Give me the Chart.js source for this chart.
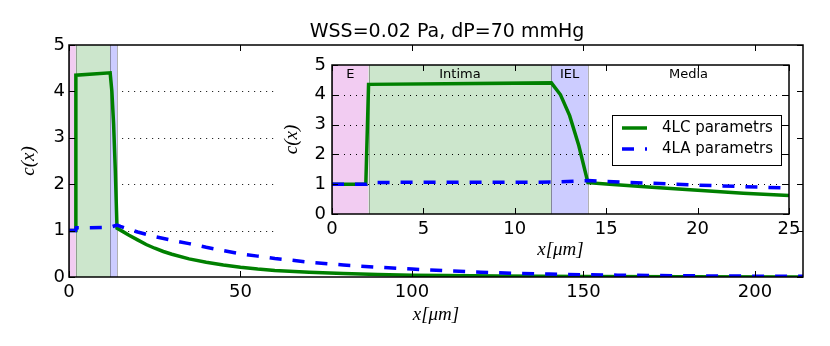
<!DOCTYPE html>
<html lang="en">
<head>
  <meta charset="UTF-8">
  <title>WSS=0.02 Pa, dP=70 mmHg</title>
  <script src="https://cdn.jsdelivr.net/npm/chart.js"></script>
  <style>
    body { margin: 0; background: #fff; }
    #wrap { position: relative; width: 830px; height: 346px; }
    #wrap canvas { position: absolute; left: 0; top: 0; }
  </style>
</head>
<body>
  <div id="wrap">
    <canvas id="mainChart" width="830" height="346"></canvas>
    <canvas id="insetChart" width="830" height="346"></canvas>
  </div>

  <script>
    // 4LC parameters (green, solid)
    const xLC = [0, 1.85, 2, 12, 12.5, 13, 13.5, 14, 15, 17.5, 20, 22.5, 25, 27.5, 30, 35, 40, 45, 50, 55, 60, 70, 80, 90, 100, 110, 125, 150, 180, 214];
    const yLC = [1.0, 1.0, 4.35, 4.40, 4.0, 3.3, 2.3, 1.05, 1.01, 0.90, 0.80, 0.70, 0.62, 0.55, 0.49, 0.39, 0.32, 0.26, 0.21, 0.17, 0.14, 0.10, 0.075, 0.055, 0.04, 0.03, 0.02, 0.01, 0.005, 0.002];
    // 4LA parameters (blue, dashed)
    const xLA = [0, 1.9, 2.1, 12, 14, 15, 17.5, 20, 22.5, 25, 30, 35, 40, 45, 50, 55, 60, 70, 80, 90, 100, 110, 120, 130, 140, 150, 160, 170, 185, 200, 214];
    const yLA = [1.0, 1.0, 1.06, 1.07, 1.12, 1.09, 1.03, 0.97, 0.92, 0.87, 0.79, 0.72, 0.64, 0.57, 0.50, 0.45, 0.40, 0.32, 0.26, 0.21, 0.17, 0.135, 0.105, 0.08, 0.062, 0.05, 0.04, 0.032, 0.024, 0.018, 0.014];

    // wall layers
    const regionNames = ['E', 'Intima', 'IEL', 'Media'];
    const regionStart = [0, 2, 12, 14];
    const regionEnd = [2, 12, 14, 25];
    const regionColors = ['#f2ccf2', '#cce6cc', '#ccccff', null];

    const mainXTicks = [0, 50, 100, 150, 200];
    const insetXTicks = [0, 5, 10, 15, 20, 25];
    const yTicks = [0, 1, 2, 3, 4, 5];
    const gridLevels = [1, 2, 3, 4];

    const SANS = "'DejaVu Sans', sans-serif";
    const SERIF = "'Liberation Serif', 'DejaVu Serif', serif";
    Chart.defaults.font.family = SANS;
    Chart.defaults.color = '#000';

    function makeDatasets() {
      return [
        {
          label: '4LC parametrs',
          data: xLC.map((x, i) => ({ x: x, y: yLC[i] })),
          borderColor: '#008000', borderWidth: 3.5,
          pointRadius: 0, tension: 0, fill: false, clip: 0, order: 1
        },
        {
          label: '4LA parametrs',
          data: xLA.map((x, i) => ({ x: x, y: yLA[i] })),
          borderColor: '#0000ff', borderWidth: 3.5, borderDash: [12, 11],
          pointRadius: 0, tension: 0, fill: false, clip: 0, order: 0
        }
      ];
    }

    function line(ctx, x0, y0, x1, y1) {
      ctx.beginPath(); ctx.moveTo(x0, y0); ctx.lineTo(x1, y1); ctx.stroke();
    }

    function drawSpans(chart) {
      const { ctx, chartArea: a, scales: { x } } = chart;
      ctx.save();
      ctx.beginPath(); ctx.rect(a.left, a.top, a.width, a.height); ctx.clip();
      regionStart.forEach((s, i) => {
        if (!regionColors[i]) return;
        const x0 = x.getPixelForValue(s), x1 = x.getPixelForValue(regionEnd[i]);
        ctx.fillStyle = regionColors[i];
        ctx.fillRect(x0, a.top, x1 - x0, a.height);
        ctx.strokeStyle = 'rgba(0,0,0,0.3)';
        ctx.lineWidth = 1;
        line(ctx, Math.round(x0) + 0.5, a.top, Math.round(x0) + 0.5, a.bottom);
        line(ctx, Math.round(x1) + 0.5, a.top, Math.round(x1) + 0.5, a.bottom);
      });
      ctx.restore();
    }

    function drawGrid(chart, from, to) {
      const { ctx, scales: { x, y } } = chart;
      ctx.save();
      ctx.strokeStyle = '#000';
      ctx.lineWidth = 1;
      ctx.setLineDash([1, 5]);
      gridLevels.forEach(v => {
        const py = Math.round(y.getPixelForValue(v)) + 0.5;
        line(ctx, x.getPixelForValue(from), py, x.getPixelForValue(to), py);
      });
      ctx.restore();
    }

    function drawFrame(chart) {
      const { ctx, chartArea: a, scales: { x, y } } = chart;
      const t = 6;
      ctx.save();
      ctx.strokeStyle = '#000';
      ctx.lineWidth = 1;
      x.ticks.forEach(tk => {
        const px = Math.round(x.getPixelForValue(tk.value)) + 0.5;
        line(ctx, px, a.bottom, px, a.bottom - t);
        line(ctx, px, a.top, px, a.top + t);
      });
      y.ticks.forEach(tk => {
        const py = Math.round(y.getPixelForValue(tk.value)) + 0.5;
        line(ctx, a.left, py, a.left + t, py);
        line(ctx, a.right, py, a.right - t, py);
      });
      ctx.lineWidth = 1.5;
      ctx.strokeRect(a.left, a.top, a.width, a.height);
      ctx.restore();
    }

    function scaleOpts(ticksList, min, max, title, fit, tickPad, titlePad) {
      return {
        type: 'linear', min: min, max: max,
        afterBuildTicks: s => { s.ticks = ticksList.map(v => ({ value: v })); },
        afterFit: fit,
        grid: { display: false, drawTicks: false },
        border: { display: false },
        ticks: { font: { size: 18 }, color: '#000', padding: tickPad, maxRotation: 0, autoSkip: false },
        title: {
          display: true, text: title, color: '#000',
          font: { family: SERIF, size: 19, style: 'italic' },
          padding: titlePad
        }
      };
    }

    // main axes
    new Chart(document.getElementById('mainChart').getContext('2d'), {
      type: 'line',
      data: { datasets: makeDatasets() },
      options: {
        responsive: false, animation: false, events: [], devicePixelRatio: 1,
        layout: { padding: { top: 45, right: 27, bottom: 0, left: 0 } },
        plugins: { legend: { display: false }, tooltip: { enabled: false } },
        scales: {
          x: scaleOpts(mainXTicks, 0, 214, 'x[\u03bcm]', s => { s.height = 69; }, 5, { top: 0, bottom: 20 }),
          y: scaleOpts(yTicks, 0, 5, 'c(x)', s => { s.width = 69; }, 4, { top: 18, bottom: 0 })
        }
      },
      plugins: [{
        id: 'mainDecor',
        beforeDraw(chart) {
          drawSpans(chart);
          drawGrid(chart, 15.5, 60.5);
        },
        afterDraw(chart) {
          drawFrame(chart);
          const ctx = chart.ctx;
          ctx.save();
          ctx.fillStyle = '#000';
          ctx.font = '19px ' + SANS;
          ctx.textAlign = 'center';
          ctx.textBaseline = 'middle';
          ctx.fillText('WSS=0.02 Pa, dP=70 mmHg', 447, 32);
          ctx.restore();
        }
      }]
    });

    // inset axes, transparent canvas laid over the main one
    new Chart(document.getElementById('insetChart').getContext('2d'), {
      type: 'line',
      data: { datasets: makeDatasets() },
      options: {
        responsive: false, animation: false, events: [], devicePixelRatio: 1,
        layout: { padding: { top: 65, right: 41, bottom: 81, left: 272 } },
        plugins: { legend: { display: false }, tooltip: { enabled: false } },
        scales: {
          x: scaleOpts(insetXTicks, 0, 25, 'x[\u03bcm]', s => { s.height = 51; }, 5, { top: 0, bottom: 3.6 }),
          y: scaleOpts(yTicks, 0, 5, 'c(x)', s => { s.width = 60; }, 6, { top: 8.6, bottom: 0 })
        }
      },
      plugins: [{
        id: 'insetDecor',
        beforeDraw(chart) {
          const { ctx, chartArea: a, scales: { x } } = chart;
          ctx.save();
          ctx.fillStyle = '#fff';
          ctx.fillRect(a.left, a.top, a.width, a.height);
          ctx.restore();
          drawSpans(chart);
          drawGrid(chart, 0, 25);
          ctx.save();
          ctx.fillStyle = '#000';
          ctx.font = '13px ' + SANS;
          ctx.textAlign = 'center';
          ctx.textBaseline = 'middle';
          regionNames.forEach((name, i) => {
            ctx.fillText(name, x.getPixelForValue((regionStart[i] + regionEnd[i]) / 2), a.top + 10);
          });
          ctx.restore();
        },
        afterDraw(chart) {
          drawFrame(chart);
          const ctx = chart.ctx;
          const box = { left: 612, top: 115, width: 169, height: 50 };
          ctx.save();
          ctx.fillStyle = '#fff';
          ctx.fillRect(box.left, box.top, box.width, box.height);
          ctx.strokeStyle = '#000';
          ctx.lineWidth = 1;
          ctx.strokeRect(box.left + 0.5, box.top + 0.5, box.width, box.height);
          ctx.font = '15px ' + SANS;
          ctx.textBaseline = 'middle';
          chart.data.datasets.forEach((ds, i) => {
            const ly = box.top + 13 + i * 21;
            ctx.strokeStyle = ds.borderColor;
            ctx.lineWidth = ds.borderWidth;
            ctx.setLineDash(ds.borderDash || []);
            line(ctx, box.left + 10, ly, box.left + 35, ly);
            ctx.setLineDash([]);
            ctx.fillStyle = '#000';
            ctx.fillText(ds.label, box.left + 50, ly);
          });
          ctx.restore();
        }
      }]
    });
  </script>
</body>
</html>
